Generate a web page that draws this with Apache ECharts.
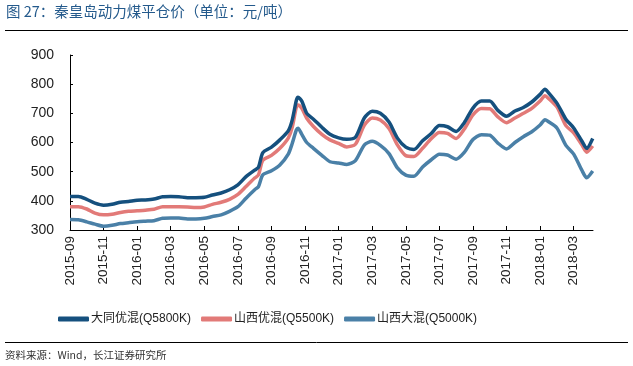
<!DOCTYPE html>
<html>
<head>
<meta charset="utf-8">
<script src="https://cdn.jsdelivr.net/npm/echarts@6/dist/echarts.min.js"></script>
<style>
html,body{margin:0;padding:0;background:#fff;}
#c{width:633px;height:366px;}
</style>
</head>
<body>
<div id="c"></div>
<script>
// Observation dates (x positions)
var dates = [
'2015-09-01','2015-09-16','2015-10-01','2015-10-16','2015-11-01','2015-11-16','2015-12-01','2015-12-16',
'2016-01-01','2016-01-16','2016-02-01','2016-02-16','2016-03-01','2016-03-16','2016-04-01','2016-04-16',
'2016-05-01','2016-05-16','2016-06-01','2016-06-16','2016-07-01','2016-07-16','2016-08-01','2016-08-08',
'2016-08-16','2016-09-01','2016-09-16','2016-10-01','2016-10-08','2016-10-16','2016-10-19','2016-10-26',
'2016-11-04','2016-11-16','2016-12-01','2016-12-16','2017-01-01','2017-01-16','2017-02-01','2017-02-16',
'2017-03-01','2017-03-16','2017-04-01','2017-04-16','2017-05-01','2017-05-16','2017-06-01','2017-06-16',
'2017-07-01','2017-07-16','2017-08-01','2017-08-16','2017-09-01','2017-09-16','2017-10-01','2017-10-16',
'2017-11-01','2017-11-16','2017-12-01','2017-12-16','2018-01-01','2018-01-10','2018-01-16','2018-02-01',
'2018-02-16','2018-03-01','2018-03-16','2018-03-25','2018-04-05'
];
var datongYouhun = [
415,415,405,392,385,388,395,398,402,403,406,414,415,414,411,411,
412,420,427,438,455,483,505,515,
565,584,609,640,675,745,755,742,
700,680,652,628,616,611,618,685,
707,700,670,615,584,576,606,630,
658,654,638,668,718,742,742,710,
690,708,720,738,765,783,772,735,
680,650,605,580,614
];
var shanxiYouhun = [
380,380,372,358,352,354,360,364,366,368,371,380,380,380,379,377,
379,388,395,405,422,449,478,489,
539,556,580,615,650,722,729,717,
683,655,628,609,597,585,594,660,
684,677,648,592,555,552,580,612,
634,631,614,646,695,717,716,688,
668,684,700,716,742,760,752,722,
658,633,592,567,588
];
var shanxiDahun = [
336,335,328,320,313,316,322,325,328,330,332,340,341,341,338,338,
340,346,352,364,380,409,438,449,
489,503,523,560,595,643,649,628,
600,580,556,534,530,525,538,592,
604,590,562,513,488,484,516,540,
560,557,543,566,610,627,625,598,
578,600,620,636,660,678,672,650,
590,560,505,479,502
];
var seriesNames = ['大同优混(Q5800K)','山西优混(Q5500K)','山西大混(Q5000K)'];
var tickMonths = [0,2,4,6,8,10,12,14,16,18,20,22,24,26,28,30];
var yTicks = [300,400,500,600,700,800,900];

function monthIndex(s){
  var p = s.split('-').map(Number);
  var dim = new Date(p[0], p[1], 0).getDate();
  return (p[0]-2015)*12 + (p[1]-9) + (p[2]-1)/dim;
}
function idxLabel(v){
  var t = Math.round(v) + 8; // months from Jan 2015 (0-based)
  var y = 2015 + Math.floor(t/12);
  var m = t % 12 + 1;
  return y + '-' + (m<10?'0':'') + m;
}
function pairs(vals){
  return vals.map(function(v,i){ return [monthIndex(dates[i]), v]; });
}
var colors = ['#15507e','#e27a78','#4a80a7'];
var allVals = [datongYouhun, shanxiYouhun, shanxiDahun];

var chart = echarts.init(document.getElementById('c'), null, {renderer:'canvas'});
chart.setOption({
  animation:false,
  backgroundColor:'#fff',
  textStyle:{fontFamily:'"Liberation Sans","Noto Sans CJK SC",Arial,sans-serif'},
  grid:{left:70, right:40, top:55, bottom:136, containLabel:false},
  legend:{
    left:53, top:308,
    itemWidth:31, itemHeight:5, itemGap:10,
    icon:'roundRect',
    textStyle:{fontSize:12, color:'#222', fontFamily:'"Liberation Sans","Noto Sans CJK SC",sans-serif', padding:[0,0,0,-3]},
    data:seriesNames
  },
  xAxis:{
    type:'value', min:0, max:31.15,
    axisLine:{lineStyle:{color:'#000', width:1}},
    axisTick:{inside:true, length:4, customValues:tickMonths, lineStyle:{color:'#000'}},
    axisLabel:{rotate:90, fontSize:13.5, color:'#222', margin:6, customValues:tickMonths, formatter:function(v){return idxLabel(v);}},
    splitLine:{show:false}
  },
  yAxis:{
    type:'value', min:300, max:900, interval:100,
    axisLine:{show:true, lineStyle:{color:'#000', width:1}},
    axisTick:{show:true, inside:true, length:3, lineStyle:{color:'#000'}},
    axisLabel:{fontSize:14, color:'#222', margin:16},
    splitLine:{show:false}
  },
  series: seriesNames.map(function(n,i){
    return {
      name:n, type:'line', data:pairs(allVals[i]), showSymbol:false, symbol:'none',
      smooth:0.25, lineStyle:{width:3.5, color:colors[i]}, itemStyle:{color:colors[i]},
      z: 3 - i
    };
  }),
  graphic:[
    {type:'text', left:6, top:4, style:{text:'图 27：秦皇岛动力煤平仓价（单位：元/吨）', fill:'#245a8c', font:'14.5px "Noto Sans CJK SC","Liberation Sans",sans-serif'}},
    {type:'line', shape:{x1:5, y1:30.5, x2:628, y2:30.5}, style:{stroke:'#000', lineWidth:1.2}},
    {type:'line', shape:{x1:5, y1:342.5, x2:628, y2:342.5}, style:{stroke:'#000', lineWidth:1}},
    {type:'text', left:5, top:350, style:{text:'资料来源：Wind，长江证券研究所', fill:'#333', font:'10.5px "Noto Sans CJK SC","Liberation Sans",sans-serif'}}
  ]
});
</script>
</body>
</html>
